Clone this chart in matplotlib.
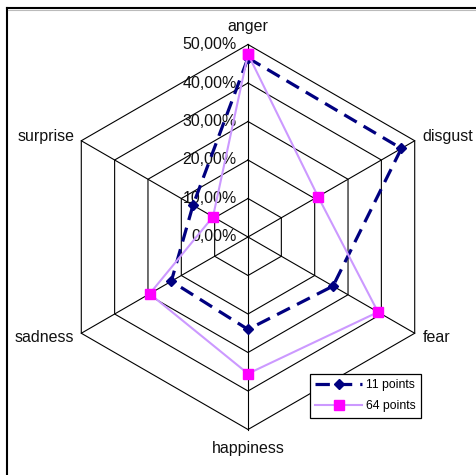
import numpy as np
import matplotlib
matplotlib.use("Agg")
import matplotlib.pyplot as plt
from matplotlib.lines import Line2D

categories = ["anger", "disgust", "fear", "happiness", "sadness", "surprise"]
series_11 = [46.5, 46.0, 25.5, 24.0, 23.0, 16.5]
series_64 = [47.5, 21.0, 39.0, 35.5, 29.5, 10.5]
levels = [10, 20, 30, 40, 50]
tick_labels = ["0,00%", "10,00%", "20,00%", "30,00%", "40,00%", "50,00%"]

W, H = 477, 475
fig = plt.figure(figsize=(W / 100, H / 100), dpi=100)
ax = fig.add_axes([0, 0, 1, 1])
cx, cy, s = 248, 237, 3.85
ax.set_xlim(-cx / s, (W - cx) / s)
ax.set_ylim((cy - H) / s, cy / s)
ax.axis("off")

n = len(categories)
ang = np.pi / 2 - np.arange(n) * 2 * np.pi / n

def xy(vals):
    v = np.asarray(vals, float)
    return v * np.cos(ang), v * np.sin(ang)

# grid hexagons
for lv in levels:
    x, y = xy([lv] * n)
    ax.plot(np.append(x, x[0]), np.append(y, y[0]), color="black", lw=0.8, zorder=1)
# spokes
xo, yo = xy([levels[-1]] * n)
for i in range(n):
    ax.plot([0, xo[i]], [0, yo[i]], color="black", lw=0.8, zorder=1)

# tick labels
for i, t in enumerate(tick_labels):
    ax.text(-2.9, i * 10, t, ha="right", va="center", fontsize=11.5,
            family="Liberation Sans", color="#111111", zorder=2)

# category labels
lab_pos = [("center", "bottom", 0, 2.6), ("left", "center", 2.0, 1.0),
           ("left", "center", 2.0, -1.0), ("center", "top", 0, -3.0),
           ("right", "center", -1.8, -1.0), ("right", "center", -1.8, 1.0)]
for i, c in enumerate(categories):
    ha, va, dx, dy = lab_pos[i]
    ax.text(xo[i] + dx, yo[i] + dy, c, ha=ha, va=va, fontsize=11.5,
            family="Liberation Sans", color="#111111")

x1, y1 = xy(series_11)
x2, y2 = xy(series_64)
ax.plot(np.append(x1, x1[0]), np.append(y1, y1[0]), color="#000080", lw=2.3,
        ls=(0, (4.5, 2.5)), marker="D", ms=5, mfc="#000080", mec="#000080",
        zorder=3, label="11 points")
ax.plot(np.append(x2, x2[0]), np.append(y2, y2[0]), color="#CC99FF", lw=1.5,
        marker="s", ms=7.5, mfc="#FF00FF", mec="#FF00FF", zorder=4,
        label="64 points")

leg = ax.legend(loc="lower left", bbox_to_anchor=((310) / W, (H - 418) / H),
                bbox_transform=fig.transFigure, prop={"family": "Liberation Sans", "size": 8.8},
                frameon=True, fancybox=False, edgecolor="black", framealpha=1,
                handlelength=3.8, borderpad=0.45, labelspacing=0.75, handletextpad=0.3,
                borderaxespad=0)
leg.get_frame().set_linewidth(0.9)

# figure frame (top and left)
fig.add_artist(Line2D([7 / W, 1], [1 - 8 / H, 1 - 8 / H], transform=fig.transFigure,
                      color="black", lw=1.5))
fig.add_artist(Line2D([7 / W, 7 / W], [0, 1 - 8 / H], transform=fig.transFigure,
                      color="black", lw=1.5))
fig.add_artist(Line2D([8 / W, 1], [1 - 10 / H, 1 - 10 / H], transform=fig.transFigure,
                      color="#bbbbbb", lw=0.8))

fig.savefig("out.png", dpi=100)
